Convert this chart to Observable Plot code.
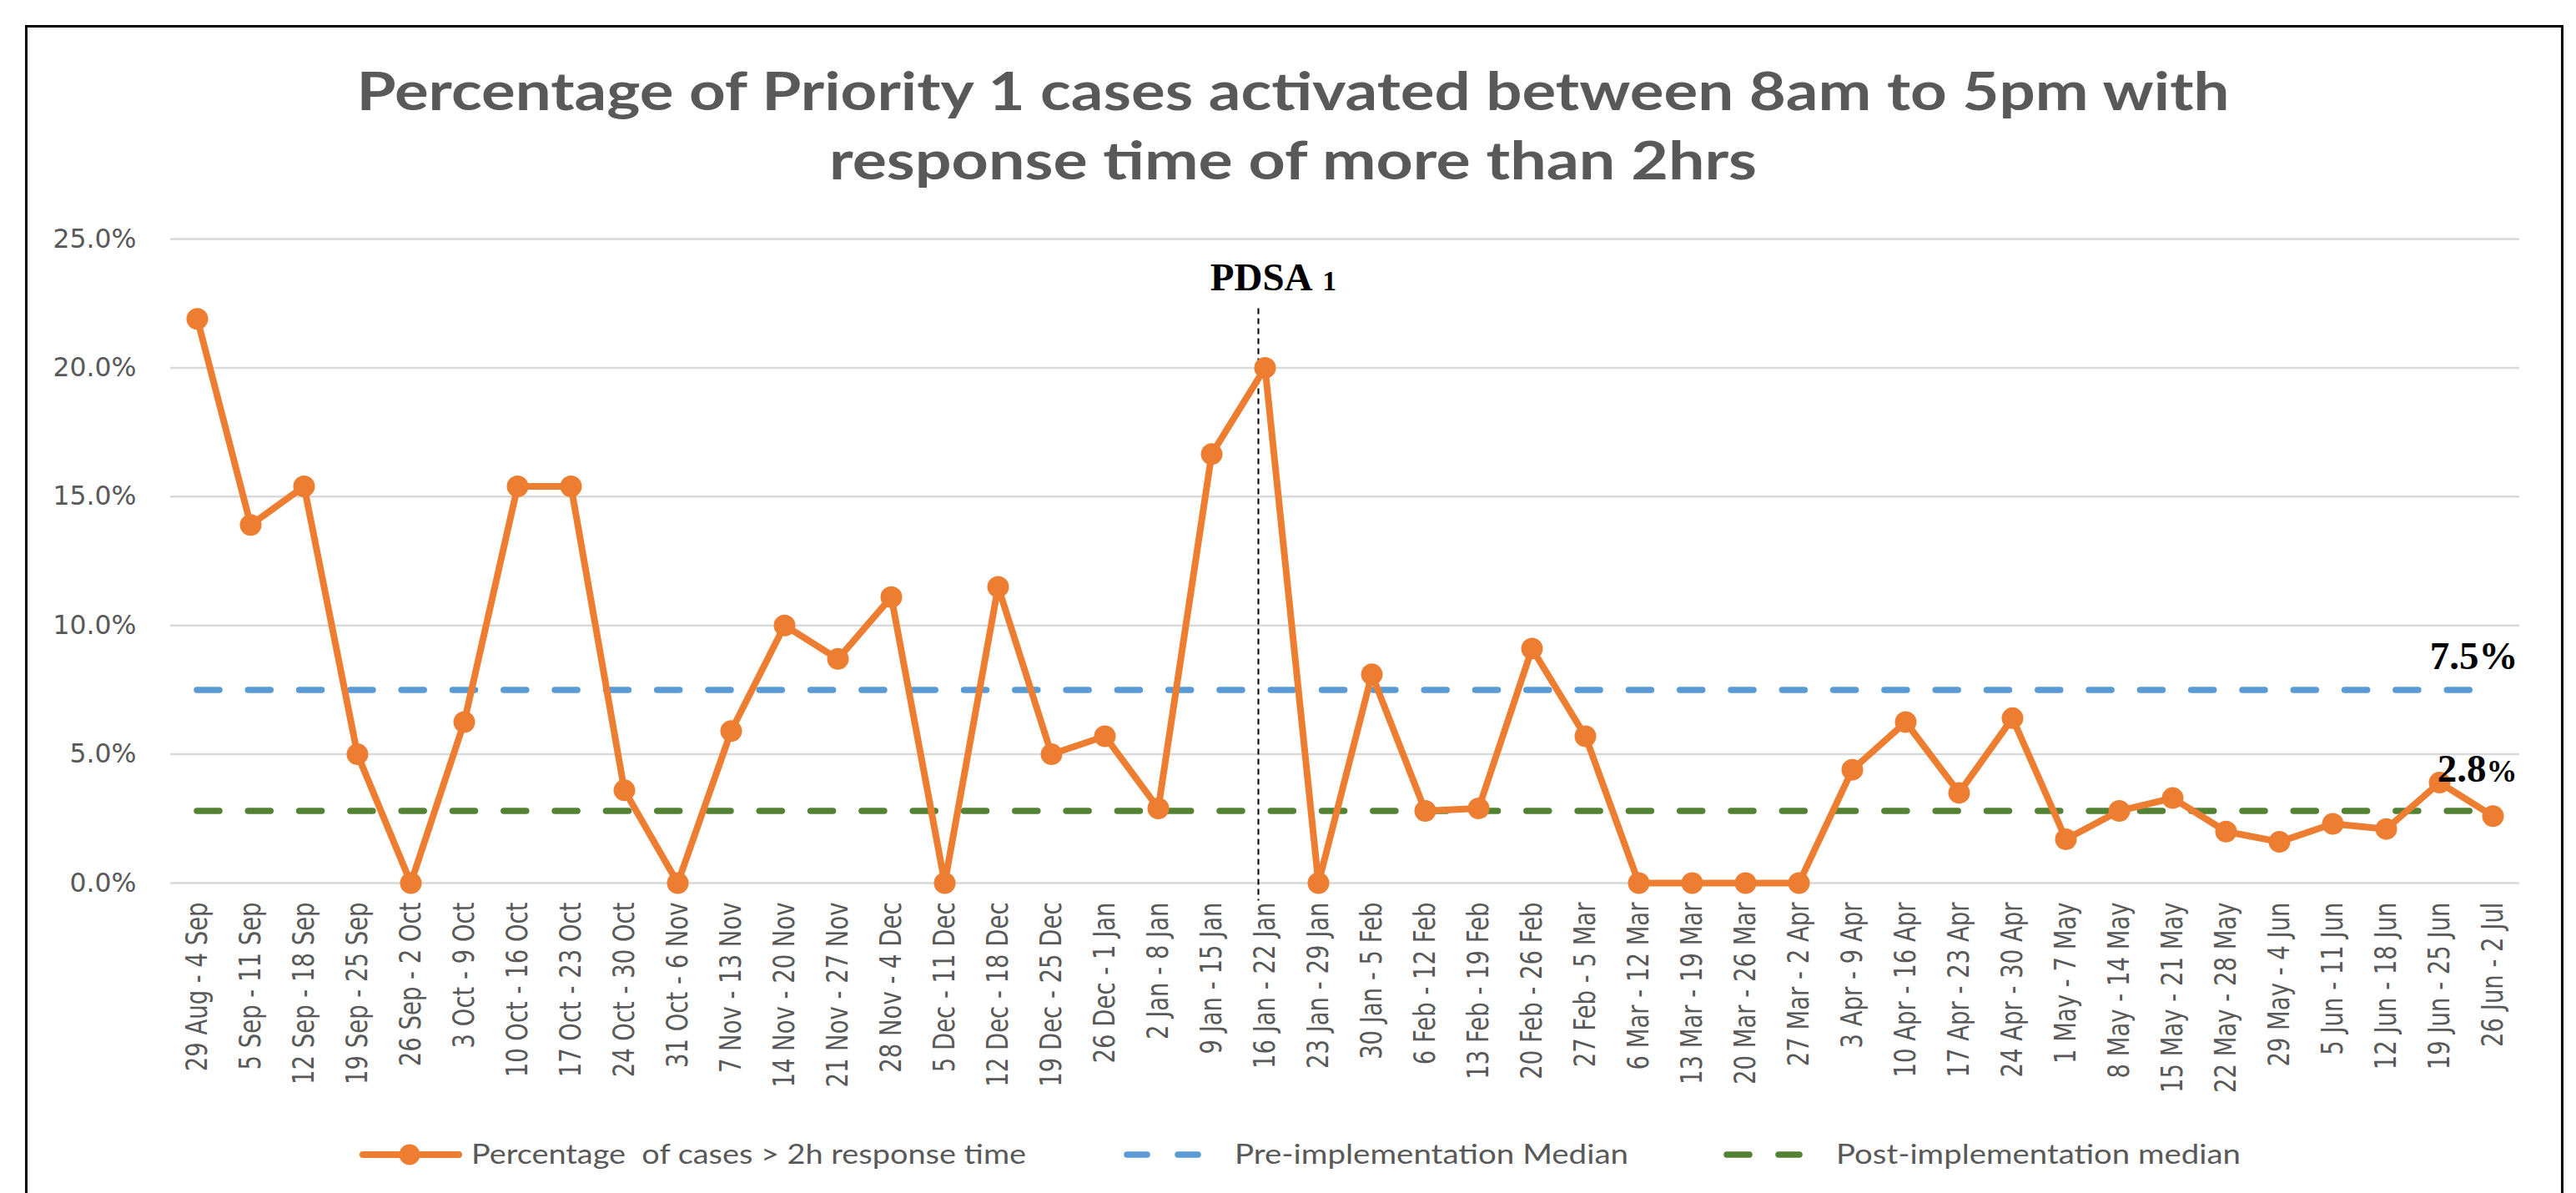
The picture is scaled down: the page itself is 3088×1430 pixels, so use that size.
<!DOCTYPE html>
<html>
<head>
<meta charset="utf-8">
<script src="https://cdn.jsdelivr.net/npm/d3@7"></script>
<script src="https://cdn.jsdelivr.net/npm/@observablehq/plot@0.6"></script>
<style>
  html, body { margin: 0; padding: 0; background: #fff; }
  body { width: 3088px; height: 1430px; position: relative; overflow: hidden; }
  #frame { position: absolute; left: 30px; top: 30px; width: 3037px; height: 1440px; border: 3px solid #000; border-bottom: none; }
  #chart { position: absolute; left: 0; top: 0; }
  #title, #legend { position: absolute; left: 0; top: 0; }
</style>
</head>
<body>
<div id="frame"></div>
<div id="chart"></div>
<svg id="title" width="3088" height="260"></svg>
<svg id="legend" width="3088" height="1430" style="pointer-events:none"></svg>
<script>
const weeks = [
  "29 Aug - 4 Sep", "5 Sep - 11 Sep", "12 Sep - 18 Sep", "19 Sep - 25 Sep", "26 Sep - 2 Oct",
  "3 Oct - 9 Oct", "10 Oct - 16 Oct", "17 Oct - 23 Oct", "24 Oct - 30 Oct", "31 Oct - 6 Nov",
  "7 Nov - 13 Nov", "14 Nov - 20 Nov", "21 Nov - 27 Nov", "28 Nov - 4 Dec", "5 Dec - 11 Dec",
  "12 Dec - 18 Dec", "19 Dec - 25 Dec", "26 Dec - 1 Jan", "2 Jan - 8 Jan", "9 Jan - 15 Jan",
  "16 Jan - 22 Jan", "23 Jan - 29 Jan", "30 Jan - 5 Feb", "6 Feb - 12 Feb", "13 Feb - 19 Feb",
  "20 Feb - 26 Feb", "27 Feb - 5 Mar", "6 Mar - 12 Mar", "13 Mar - 19 Mar", "20 Mar - 26 Mar",
  "27 Mar - 2 Apr", "3 Apr - 9 Apr", "10 Apr - 16 Apr", "17 Apr - 23 Apr", "24 Apr - 30 Apr",
  "1 May - 7 May", "8 May - 14 May", "15 May - 21 May", "22 May - 28 May", "29 May - 4 Jun",
  "5 Jun - 11 Jun", "12 Jun - 18 Jun", "19 Jun - 25 Jun", "26 Jun - 2 Jul"
];
const pct = [
  21.9, 13.9, 15.4, 5.0, 0.0,
  6.25, 15.4, 15.4, 3.6, 0.0,
  5.9, 10.0, 8.7, 11.1, 0.0,
  11.5, 5.0, 5.7, 2.9, 16.65,
  20.0, 0.0, 8.1, 2.8, 2.9,
  9.1, 5.7, 0.0, 0.0, 0.0,
  0.0, 4.4, 6.25, 3.5, 6.4,
  1.7, 2.8, 3.3, 2.0, 1.6,
  2.3, 2.1, 3.9, 2.6
];
const preMedian = 7.5;
const postMedian = 2.8;
const pdsaWeek = "16 Jan - 22 Jan";
const pdsaLabel = "PDSA";
const pdsaNumber = "1";
const pdsaSpan = [22.3, -0.7];
const yTicks = [0, 5, 10, 15, 20, 25];
const titleLines = [
  "Percentage of Priority 1 cases activated between 8am to 5pm with",
  "response time of more than 2hrs"
];
const legendLabels = [
  "Percentage  of cases > 2h response time",
  "Pre-implementation Median",
  "Post-implementation median"
];
const colors = { pct: "#ED7D31", pre: "#5B9BD5", post: "#548235", text: "#595959", grid: "#D9D9D9" };

const data = weeks.map((week, i) => ({ week, pct: pct[i] }));
const firstWeek = weeks[0];
const lastWeek = weeks[weeks.length - 1];

const chart = Plot.plot({
  width: 3088,
  height: 1430,
  marginLeft: 204,
  marginRight: 68,
  marginTop: 286,
  marginBottom: 372,
  style: { background: "transparent", overflow: "visible" },
  x: { type: "point", domain: weeks, padding: 0.5, label: null },
  y: { domain: [0, 25], label: null },
  marks: [
    Plot.gridY(yTicks, { stroke: colors.grid, strokeOpacity: 1, strokeWidth: 2.5 }),
    Plot.axisY(yTicks, {
      label: null, tickSize: 0, tickPadding: 41,
      tickFormat: d => d.toFixed(1) + "%",
      fontSize: 31.5, fontFamily: "DejaVu Sans", color: colors.text
    }),
    Plot.axisX({
      label: null, tickSize: 0, tickPadding: 23, tickRotate: -90,
      fontSize: 27.5, fontFamily: "DejaVu Sans", color: colors.text
    }),
    Plot.ruleY([preMedian], {
      y: d => d, x1: () => firstWeek, x2: () => lastWeek,
      stroke: colors.pre, strokeWidth: 7.5, strokeDasharray: "27,34.3", strokeLinecap: "round"
    }),
    Plot.ruleY([postMedian], {
      y: d => d, x1: () => firstWeek, x2: () => lastWeek,
      stroke: colors.post, strokeWidth: 7.5, strokeDasharray: "27,34.3", strokeLinecap: "round"
    }),
    Plot.ruleX([pdsaWeek], {
      x: d => d, y1: pdsaSpan[0], y2: pdsaSpan[1], dx: -8,
      stroke: "#000", strokeWidth: 2, strokeDasharray: "7,5"
    }),
    Plot.line(data, { x: "week", y: "pct", stroke: colors.pct, strokeWidth: 8, strokeLinejoin: "round" }),
    Plot.dot(data, { x: "week", y: "pct", r: 13, fill: colors.pct, stroke: "none" }),
    Plot.text([pdsaWeek], {
      x: d => d, frameAnchor: "top", dy: 61, dx: 57, text: () => pdsaLabel,
      textAnchor: "end", lineAnchor: "bottom",
      fontFamily: "Liberation Serif", fontWeight: "bold", fontSize: 47, fill: "#000"
    }),
    Plot.text([pdsaWeek], {
      x: d => d, frameAnchor: "top", dy: 61, dx: 69, text: () => pdsaNumber,
      textAnchor: "start", lineAnchor: "bottom",
      fontFamily: "Liberation Serif", fontWeight: "bold", fontSize: 33, fill: "#000"
    }),
    Plot.text([preMedian], {
      x: () => lastWeek, y: d => d, text: d => d.toFixed(1) + "%", dx: 30, dy: -25,
      textAnchor: "end", lineAnchor: "bottom",
      fontFamily: "Liberation Serif", fontWeight: "bold", fontSize: 47, fill: "#000"
    }),
    Plot.text([postMedian], {
      x: () => lastWeek, y: d => d, text: d => d.toFixed(1), dx: -8, dy: -35,
      textAnchor: "end", lineAnchor: "bottom",
      fontFamily: "Liberation Serif", fontWeight: "bold", fontSize: 47, fill: "#000"
    }),
    Plot.text([postMedian], {
      x: () => lastWeek, y: d => d, text: () => "%", dx: 29, dy: -35,
      textAnchor: "end", lineAnchor: "bottom",
      fontFamily: "Liberation Serif", fontWeight: "bold", fontSize: 37, fill: "#000"
    })
  ]
});
document.getElementById("chart").appendChild(chart);

// widen the x tick labels' glyphs a little like the stretched original
d3.select(chart).selectAll('g[aria-label="x-axis tick label"] text').each(function () {
  const t = this.getAttribute("transform") || "";
  this.setAttribute("transform", t + " scale(1,1.3)");
});

// Title
const title = d3.select("#title");
const titleBaselines = [132, 215];
const titleWidths = [2245, 1112];
titleLines.forEach((line, i) => {
  title.append("text")
    .attr("x", 1550).attr("y", titleBaselines[i])
    .attr("text-anchor", "middle")
    .attr("font-family", "Lato").attr("font-weight", "bold").attr("font-size", 63.5)
    .attr("fill", colors.text)
    .attr("textLength", titleWidths[i]).attr("lengthAdjust", "spacingAndGlyphs")
    .text(line);
});

// Legend
const legend = d3.select("#legend");
const ly = 1384;
legend.append("line").attr("x1", 435).attr("x2", 550).attr("y1", ly).attr("y2", ly)
  .attr("stroke", colors.pct).attr("stroke-width", 8).attr("stroke-linecap", "round");
legend.append("circle").attr("cx", 491).attr("cy", ly).attr("r", 12.5).attr("fill", colors.pct);
[[1351, 1375], [1412, 1436]].forEach(([a, b]) => legend.append("line")
  .attr("x1", a).attr("x2", b).attr("y1", ly).attr("y2", ly)
  .attr("stroke", colors.pre).attr("stroke-width", 7.5).attr("stroke-linecap", "round"));
[[2070, 2097], [2132, 2157]].forEach(([a, b]) => legend.append("line")
  .attr("x1", a).attr("x2", b).attr("y1", ly).attr("y2", ly)
  .attr("stroke", colors.post).attr("stroke-width", 7.5).attr("stroke-linecap", "round"));
const legendX = [565, 1480, 2201];
const legendW = [665, 472, 485];
legendLabels.forEach((label, i) => {
  legend.append("text")
    .attr("x", legendX[i]).attr("y", 1395)
    .attr("font-family", "Lato").attr("font-size", 32)
    .attr("fill", colors.text).attr("xml:space", "preserve").style("white-space", "pre")
    .attr("textLength", legendW[i]).attr("lengthAdjust", "spacingAndGlyphs")
    .text(label);
});
</script>
</body>
</html>
